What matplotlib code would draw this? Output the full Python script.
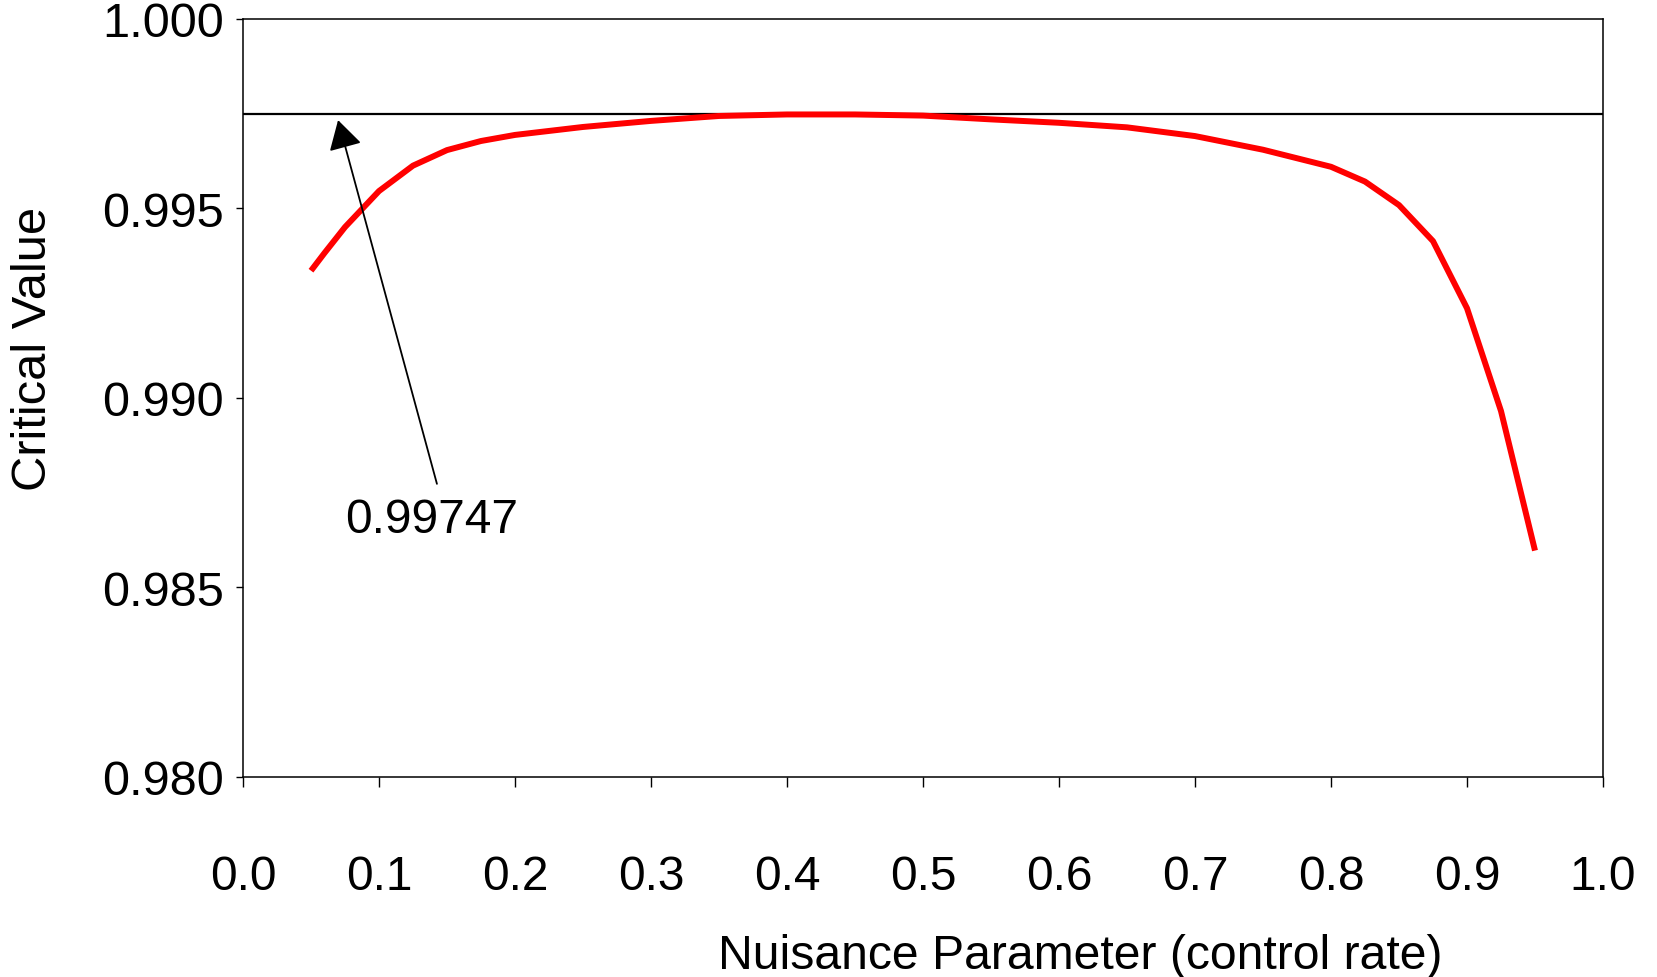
import matplotlib
matplotlib.use("Agg")
import matplotlib.pyplot as plt
from matplotlib.ticker import FormatStrFormatter

plt.rcParams['font.family'] = ['Liberation Sans', 'DejaVu Sans']

# Critical value as a function of the control rate
control_rate = [0.05, 0.06, 0.075, 0.10, 0.125, 0.15, 0.175, 0.20, 0.25, 0.30,
                0.35, 0.40, 0.45, 0.50, 0.55, 0.60, 0.65, 0.70, 0.75, 0.80,
                0.825, 0.85, 0.875, 0.90, 0.925, 0.95]
critical_value = [0.99335, 0.99382, 0.99450, 0.99545, 0.99612, 0.99653, 0.99677,
                  0.99693, 0.99714, 0.99730, 0.99743, 0.99747, 0.99747, 0.99744,
                  0.99734, 0.99725, 0.99713, 0.99690, 0.99654, 0.99609, 0.99570,
                  0.99508, 0.99413, 0.99236, 0.98965, 0.98597]

max_critical = 0.99747
max_label = "0.99747"

x_ticks = [0.0, 0.1, 0.2, 0.3, 0.4, 0.5, 0.6, 0.7, 0.8, 0.9, 1.0]
y_ticks = [0.980, 0.985, 0.990, 0.995, 1.000]

fig = plt.figure(figsize=(16.57, 9.78), dpi=100)
ax = fig.add_axes([243 / 1657, 1 - 778 / 978, 1360 / 1657, (778 - 19.5) / 978])

ax.plot(control_rate, critical_value, color='#ff0000', lw=4.3, solid_capstyle='butt',
        solid_joinstyle='round', zorder=3)
ax.axhline(max_critical, color='black', lw=1.6, zorder=2)

ax.set_xlim(0.0, 1.0)
ax.set_ylim(0.980, 1.000)
ax.set_xticks(x_ticks)
ax.set_yticks(y_ticks)
ax.xaxis.set_major_formatter(FormatStrFormatter('%.1f'))
ax.yaxis.set_major_formatter(FormatStrFormatter('%.3f'))

for s in ax.spines.values():
    s.set_linewidth(1.1)
    s.set_color('black')

ax.tick_params(axis='x', direction='out', length=7.5, width=1.0, pad=48,
               labelsize=34.5)
ax.tick_params(axis='y', direction='out', length=5, width=1.0, pad=9,
               labelsize=35)

# annotation of the maximum critical value
ax.annotate('', xy=(0.0699, 0.99732), xytext=(0.1426, 0.98773),
            arrowprops=dict(arrowstyle='-|>,head_length=0.45,head_width=0.26',
                            mutation_scale=40, color='black', lw=1.3,
                            shrinkA=0, shrinkB=0), zorder=4)
ax.text(0.139, 0.98678, max_label, ha='center', va='center', fontsize=34.5)

fig.text(1080 / 1657, 1 - 957 / 978, 'Nuisance Parameter (control rate)',
         ha='center', va='center', fontsize=34.7)
fig.text(34 / 1657, 1 - 349 / 978, 'Critical Value', ha='center', va='center',
         rotation=90, fontsize=35.2)

fig.savefig('out.png', dpi=100, facecolor='white')
